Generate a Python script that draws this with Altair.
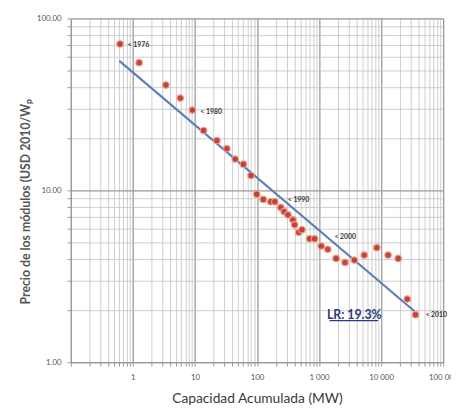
import altair as alt
import pandas as pd

# Data (cumulative capacity MW, module price USD 2010/Wp)
capacity = [0.62, 1.26, 3.4, 5.8, 9.1, 13.8, 22.6, 32.7, 44.5, 60.4, 80, 99, 126, 167, 194,
            242, 273, 316, 380, 405, 470, 531, 705, 847, 1084, 1383, 1883, 2624, 3700,
            5346, 8530, 12950, 18900, 26400, 35900]
price = [71, 55.3, 41, 34.4, 29.3, 22.3, 19.5, 17.5, 15.2, 14.2, 12.2, 9.49, 8.85, 8.58, 8.58,
         7.96, 7.52, 7.2, 6.74, 6.3, 5.7, 5.9, 5.23, 5.23, 4.74, 4.54, 4.02, 3.81, 3.93,
         4.2, 4.64, 4.2, 4.02, 2.33, 1.89]

trend_x = [0.604, 34600]
trend_y = [56.6, 1.98]

year_labels = ["< 1976", "< 1980", "< 1990", "< 2000", "< 2010"]
year_x = [0.82, 12.2, 313, 1770, 51900]
year_y = [69.8, 28.4, 8.77, 5.32, 1.87]

lr_text = ["LR: 19.3%"]
lr_x = [3700]
lr_y = [1.88]
ul_x = [1472]
ul_x2 = [8950]
ul_y = [1.745]

x_ticks = [k * 10.0 ** e for e in range(-1, 5) for k in range(1, 10)] + [100000.0]
y_ticks = [k * 10.0 ** e for e in range(0, 2) for k in range(1, 10)] + [100.0]

pts = pd.DataFrame({"x": capacity, "y": price})
trend = pd.DataFrame({"x": trend_x, "y": trend_y})
years = pd.DataFrame({"x": year_x, "y": year_y, "t": year_labels})
lr = pd.DataFrame({"x": lr_x, "y": lr_y, "t": lr_text})
ul = pd.DataFrame({"x": ul_x, "x2": ul_x2, "y": ul_y})

major_test = "abs(log(datum.value)/LN10 - round(log(datum.value)/LN10)) < 1e-6"

x_label_expr = (
    "datum.value == 1 ? '1' : datum.value == 10 ? '10' : datum.value == 100 ? '100' : "
    "datum.value == 1000 ? '1 000' : datum.value == 10000 ? '10 000' : "
    "datum.value == 100000 ? '100 000' : ''"
)
y_label_expr = (
    "datum.value == 1 ? '1.00' : datum.value == 10 ? '10.00' : datum.value == 100 ? '100.00' : ''"
)

xscale = alt.Scale(type="log", domain=[0.1, 100000], nice=False)
yscale = alt.Scale(type="log", domain=[1, 100], nice=False)

grid_color = {"condition": {"test": major_test, "value": "#9a9a9a"}, "value": "#c2c2c2"}
grid_width = {"condition": {"test": major_test, "value": 1.3}, "value": 0.8}

xaxis = alt.Axis(
    values=x_ticks, labelExpr=x_label_expr, title="Capacidad Acumulada (MW)",
    grid=True, gridColor=grid_color, gridWidth=grid_width,
    tickColor="#999", tickSize=4, domainColor="#999",
    labelFont="Lato", labelFontSize=8, labelColor="#555", labelPadding=8,
    labelOverlap=False, labelFlush=False,
    titleFont="Lato", titleFontSize=14, titleFontWeight="normal", titleColor="#3a3a3a",
    titlePadding=10,
)
yaxis = alt.Axis(
    values=y_ticks, labelExpr=y_label_expr, title="Precio de los módulos (USD 2010/Wₚ",
    grid=True, gridColor=grid_color, gridWidth=grid_width,
    tickColor="#999", tickSize=4, domainColor="#999",
    labelFont="Lato", labelFontSize=8, labelColor="#555", labelPadding=6,
    labelOverlap=False,
    titleFont="Lato", titleFontSize=12.5, titleFontWeight="bold", titleColor="#555",
    titlePadding=4, titleY=186,
)

base = alt.Chart(pts).mark_circle(size=44, color="#c4392f", opacity=0.95,
                                  stroke="#e9a08a", strokeWidth=1.2).encode(
    x=alt.X("x:Q", scale=xscale, axis=xaxis),
    y=alt.Y("y:Q", scale=yscale, axis=yaxis),
)

line = alt.Chart(trend).mark_line(color="#5b80b6", strokeWidth=2.2).encode(
    x=alt.X("x:Q", scale=xscale), y=alt.Y("y:Q", scale=yscale)
)

ytxt = alt.Chart(years).mark_text(align="left", baseline="middle", font="Lato",
                                  fontSize=7, fontWeight="bold", color="#333").encode(
    x=alt.X("x:Q", scale=xscale), y=alt.Y("y:Q", scale=yscale), text="t:N"
)

lrtxt = alt.Chart(lr).mark_text(align="center", baseline="middle", font="Lato",
                                fontSize=12.5, fontWeight="bold", color="#2c3b7c").encode(
    x=alt.X("x:Q", scale=xscale), y=alt.Y("y:Q", scale=yscale), text="t:N"
)

ulr = alt.Chart(ul).mark_rule(color="#2c3b7c", strokeWidth=1.2).encode(
    x=alt.X("x:Q", scale=xscale), x2="x2:Q", y=alt.Y("y:Q", scale=yscale)
)

chart = alt.layer(line, base, ytxt, lrtxt, ulr).properties(
    width=379, height=350,
    autosize=alt.AutoSizeParams(type="none"),
    padding={"left": 64, "top": 7, "right": 8, "bottom": 46},
).configure_view(stroke="#999", strokeWidth=1).configure(background="white")

chart.save("out.html", embed_options={"renderer": "svg", "actions": False})
